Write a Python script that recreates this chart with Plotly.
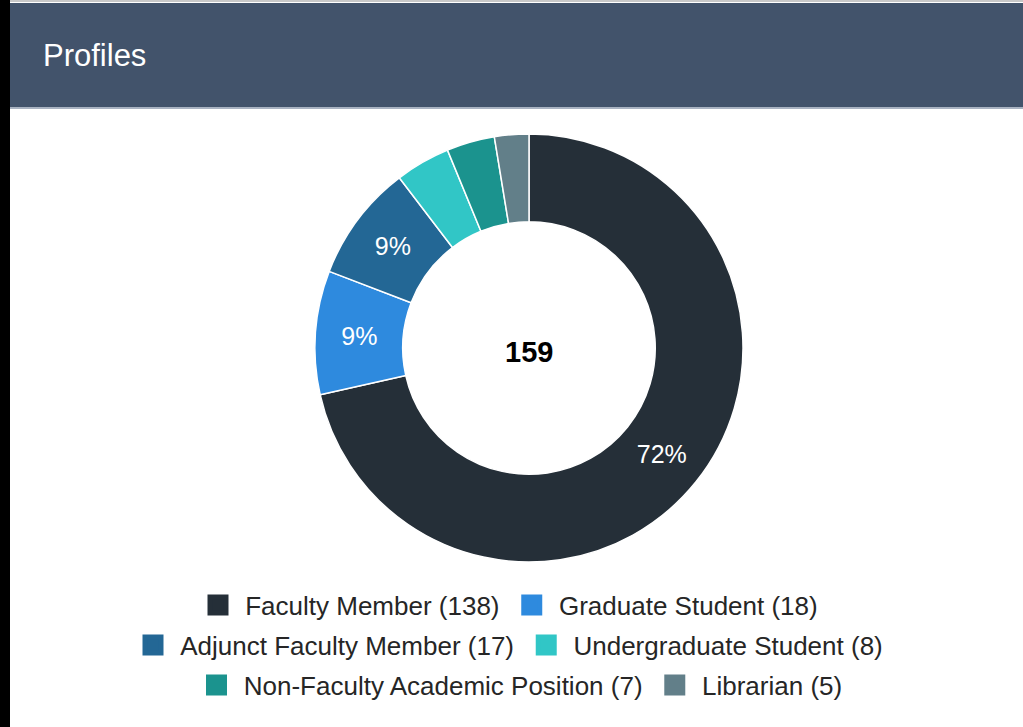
import plotly.graph_objects as go

categories = ["Faculty Member", "Graduate Student", "Adjunct Faculty Member",
              "Undergraduate Student", "Non-Faculty Academic Position", "Librarian"]
counts = [138, 18, 17, 8, 7, 5]
colors = ["#252f38", "#2e8ade", "#236795", "#31c6c6", "#1b938e", "#627f89"]
center_label = "159"
title_text = "Profiles"

W, H = 1023, 727
total = sum(counts)
texttemplates = ["%{percent:.0%}" if c / total >= 0.05 else "" for c in counts]

fig = go.Figure()

# donut: centre (529,348) px, radius 214 px
cx, cy, r = 529, 348, 214
fig.add_trace(go.Pie(
    labels=categories, values=counts, sort=False, direction="clockwise", rotation=0,
    hole=0.59, marker=dict(colors=colors, line=dict(color="white", width=1.5)),
    texttemplate=texttemplates, textposition="inside", insidetextorientation="horizontal",
    textfont=dict(family="Liberation Sans, Arial", size=25, color="white"),
    domain=dict(x=[(cx - r) / W, (cx + r) / W], y=[(H - cy - r) / H, (H - cy + r) / H]),
    showlegend=False, hoverinfo="label+value+percent",
))

# legend entries split into three centred rows
rows = [(0, 1), (2, 3), (4, 5)]
row_y = [605, 645, 685]
row_cx = [514, 514, 525.5]
legend_names = ["legend", "legend2", "legend3"]
NBSP = "\u00a0"
for ri, idxs in enumerate(rows):
    for i in idxs:
        fig.add_trace(go.Scatter(
            x=[None], y=[None], mode="markers",
            name=f"{NBSP}{categories[i]} ({counts[i]}){NBSP}",
            marker=dict(symbol="square", size=16, color=colors[i],
                        line=dict(color=colors[i], width=5)),
            legend=legend_names[ri], showlegend=True,
        ))

leg_common = dict(orientation="h", xanchor="center", yanchor="middle",
                  bgcolor="rgba(0,0,0,0)", tracegroupgap=0,
                  font=dict(family="Liberation Sans, Arial", size=26, color="#262626"))
layout_legends = {}
for ri, name in enumerate(legend_names):
    layout_legends[name] = dict(leg_common, x=row_cx[ri] / W, y=1 - row_y[ri] / H)

shapes = [
    # header bar
    dict(type="rect", xref="paper", yref="paper", x0=10 / W, x1=1, y0=1 - 107 / H, y1=1 - 3 / H,
         fillcolor="#42536b", line=dict(width=0), layer="below"),
    dict(type="rect", xref="paper", yref="paper", x0=10 / W, x1=1, y0=1 - 109 / H, y1=1 - 107 / H,
         fillcolor="#a9b3c2", line=dict(width=0), layer="below"),
    dict(type="rect", xref="paper", yref="paper", x0=10 / W, x1=1, y0=1 - 2 / H, y1=1,
         fillcolor="#c8c8c8", line=dict(width=0), layer="below"),
    # left black strip
    dict(type="rect", xref="paper", yref="paper", x0=0, x1=10 / W, y0=0, y1=1,
         fillcolor="black", line=dict(width=0), layer="below"),
]

annotations = [
    dict(text=title_text, xref="paper", yref="paper", x=41 / W, y=1 - 56 / H,
         xanchor="left", yanchor="middle", showarrow=False,
         font=dict(family="Liberation Sans, Arial", size=31, color="white")),
    dict(text=f"<b>{center_label}</b>", xref="paper", yref="paper", x=cx / W, y=1 - 352 / H,
         xanchor="center", yanchor="middle", showarrow=False,
         font=dict(family="Liberation Sans, Arial", size=29, color="black")),
]

fig.update_layout(
    width=W, height=H, margin=dict(l=0, r=0, t=0, b=0),
    paper_bgcolor="white", plot_bgcolor="white",
    xaxis=dict(visible=False), yaxis=dict(visible=False),
    shapes=shapes, annotations=annotations,
    **layout_legends,
)

fig.write_html(
    "out.html", config={"displayModeBar": False},
    post_script="document.body.style.margin='0';document.body.style.padding='0';"
                "document.body.style.overflow='hidden';",
)
